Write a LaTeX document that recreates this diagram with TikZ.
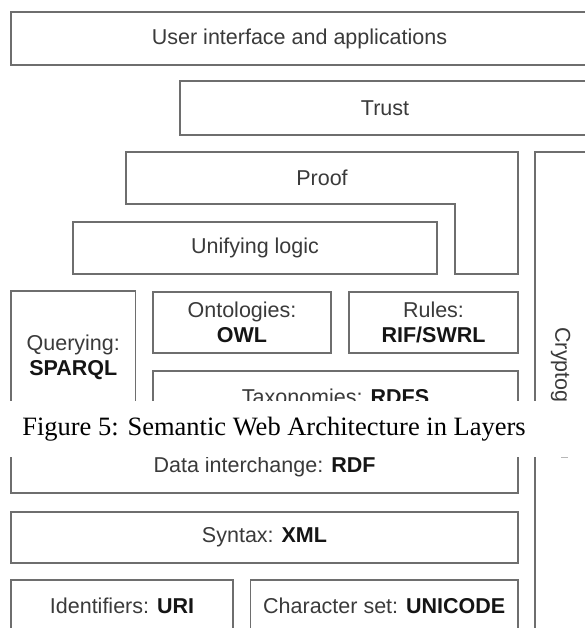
\documentclass[tikz,border=0pt]{standalone}
\usepackage{fontspec}
\setmainfont{Liberation Serif}
\newfontfamily\diagsans{Liberation Sans}
\definecolor{edgegray}{HTML}{6E6E6E}
\definecolor{textgray}{HTML}{3A3A3A}
\definecolor{boldgray}{HTML}{151515}
\newcommand\layerkw[1]{{\color{boldgray}\bfseries #1}}
\begin{document}
\begin{tikzpicture}[x=1pt,y=-1pt,
  layer/.style={draw=edgegray, line width=1.5pt, fill=white, inner sep=0pt,
    align=center, text=textgray,
    font=\diagsans\fontsize{21.5}{25}\selectfont},
  layertext/.style={inner sep=0pt, align=center, text=textgray,
    font=\diagsans\fontsize{21.5}{25}\selectfont},
]
\useasboundingbox (0,0) rectangle (585,628);
\clip (0,0) rectangle (585,628);
\fill[white] (0,0) rectangle (585,628);

% top layers
\node[layer, minimum width=577pt, minimum height=53pt] (ui) at (299.5,38.5)
  {User interface and applications};
\node[layer, minimum width=410pt, minimum height=54pt] (trust) at (385,108)
  {Trust};

% proof: an L-shaped layer wrapped around unifying logic
\draw[draw=edgegray, line width=1.5pt, fill=white]
  (126,152) -- (518,152) -- (518,274) -- (455,274) -- (455,204) -- (126,204) -- cycle;
\node[layertext] (proof) at (322,178) {Proof};

% cryptography column on the right
\node[layer, minimum width=52pt, minimum height=480pt] (crypto) at (561,392) {};
\node[layertext, rotate=-90] (cryptotext) at (crypto.center) {Cryptography};

\node[layer, minimum width=364pt, minimum height=52pt] (unify) at (255,248)
  {Unifying logic};

% middle layers
\node[layer, minimum width=124.5pt, minimum height=132pt] (query) at (73.25,357)
  {Querying:\\\layerkw{SPARQL}};
\node[layer, minimum width=178pt, minimum height=61pt] (onto) at (242,322.5)
  {Ontologies:\\\layerkw{OWL}};
\node[layer, minimum width=169pt, minimum height=61pt] (rules) at (433.5,322.5)
  {Rules:\\\layerkw{RIF/SWRL}};
\node[layer, minimum width=365pt, minimum height=52pt] (taxo) at (335.5,397)
  {Taxonomies: \layerkw{RDFS}};

% lower layers
\node[layer, minimum width=507pt, minimum height=52pt] (rdf) at (264.5,467)
  {Data interchange: \layerkw{RDF}};
\node[layer, minimum width=507pt, minimum height=51pt] (xml) at (264.5,537.5)
  {Syntax: \layerkw{XML}};
\node[layer, minimum width=222pt, minimum height=52pt] (uri) at (122,606)
  {Identifiers: \layerkw{URI}};
\node[layer, minimum width=267.5pt, minimum height=52pt] (unicode) at (384.25,606)
  {Character set: \layerkw{UNICODE}};

% caption band
\fill[white] (0,401) rectangle (585,457);
\draw[edgegray!50, line width=1pt] (561,457) -- (568,457);
\node[anchor=base, inner sep=0pt, font=\fontsize{26.5}{30}\selectfont] (caption)
  at (274,435) {Figure 5: Semantic Web Architecture in Layers};
\end{tikzpicture}
\end{document}
